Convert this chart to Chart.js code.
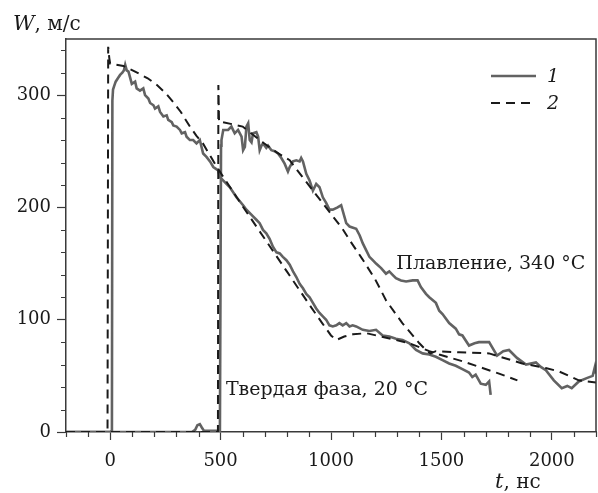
<!DOCTYPE html>
<html>
<head>
<meta charset="utf-8">
<title>W(t)</title>
<script src="https://cdn.jsdelivr.net/npm/chart.js"></script>
<style>
  html, body { margin: 0; padding: 0; background: #fff; }
</style>
</head>
<body>
<canvas id="chart" width="598" height="493"></canvas>
<script>
// curve 1, solid phase 20 C
const solid20T = [-200, 0, 8, 10, 13, 18, 25, 35, 45, 55, 62, 68, 75, 83, 98, 113, 120, 135, 150, 158, 173, 181, 196, 203, 218, 226, 241, 256, 263, 279, 286, 301, 316, 324, 339, 346, 361, 376, 391, 406, 421, 436, 452, 467, 489, 497, 542, 572, 602, 617, 647, 662, 677, 692, 707, 722, 737, 753, 768, 782, 798, 813, 828, 843, 858, 873, 888, 903, 918, 933, 948, 963, 978, 993, 1008, 1024, 1038, 1053, 1069, 1084, 1098, 1114, 1144, 1174, 1204, 1234, 1264, 1294, 1324, 1355, 1385, 1415, 1445, 1475, 1505, 1535, 1565, 1595, 1625, 1640, 1655, 1678, 1701, 1716, 1723];
const solid20W = [0, 0, 1, 295, 305, 308, 312, 315, 318, 320, 322, 327, 322, 321, 310, 312, 306, 304, 306, 300, 297, 293, 291, 288, 290, 285, 281, 282, 278, 276, 273, 272, 269, 266, 267, 263, 260, 260, 257, 260, 248, 245, 241, 236, 233, 227, 218, 209, 202, 198, 192, 189, 186, 180, 177, 172, 165, 160, 159, 156, 153, 149, 143, 138, 132, 128, 123, 120, 115, 110, 106, 103, 100, 95, 94, 95, 97, 95, 97, 94, 95, 94, 91, 90, 91, 86, 85, 83, 82, 79, 73, 70, 69, 67, 64, 61, 59, 56, 53, 49, 51, 43, 42, 45, 33];

// curve 2, solid phase 20 C
const dash20T = [-200, -12, -9, -4, 0, 60, 122, 170, 212, 250, 285, 320, 361, 390, 420, 450, 483, 600, 700, 800, 900, 960, 1000, 1025, 1060, 1100, 1160, 1250, 1355, 1445, 1490, 1595, 1686, 1761, 1844];
const dash20W = [0, 0, 343, 333, 328, 326, 320, 315, 309, 302, 294, 285, 272, 264, 257, 247, 236, 201, 172, 143, 114, 97, 86, 82, 85, 87, 88, 84, 79, 72, 69, 63, 57, 52, 46];

// curve 1, melting 340 C
const solid340T = [-200, 370, 385, 395, 406, 415, 425, 470, 497, 500, 502, 504, 512, 534, 549, 564, 579, 595, 602, 610, 617, 625, 632, 640, 647, 662, 670, 677, 685, 692, 707, 715, 730, 745, 760, 775, 790, 805, 813, 828, 843, 858, 865, 873, 888, 903, 918, 933, 948, 963, 978, 993, 1008, 1030, 1046, 1069, 1084, 1114, 1130, 1144, 1159, 1174, 1189, 1204, 1227, 1249, 1264, 1279, 1294, 1317, 1340, 1370, 1392, 1407, 1430, 1445, 1475, 1490, 1505, 1535, 1565, 1580, 1595, 1625, 1650, 1670, 1716, 1752, 1780, 1806, 1842, 1883, 1928, 1950, 1973, 2009, 2045, 2070, 2090, 2122, 2158, 2185, 2195, 2200];
const solid340W = [0, 0, 2, 6, 7, 4, 1, 1, 1, 150, 255, 260, 269, 269, 272, 266, 269, 263, 251, 254, 272, 275, 260, 258, 266, 267, 263, 251, 255, 257, 253, 255, 251, 250, 248, 244, 239, 232, 236, 241, 242, 241, 244, 241, 230, 224, 215, 221, 218, 209, 204, 198, 198, 200, 202, 186, 183, 181, 175, 168, 162, 156, 153, 150, 146, 141, 143, 140, 137, 135, 134, 135, 135, 129, 123, 120, 115, 108, 105, 97, 92, 87, 86, 77, 79, 80, 80, 68, 72, 73, 66, 60, 62, 58, 55, 46, 39, 41, 39, 45, 48, 50, 58, 52];

// curve 2, melting 340 C
const dash340T = [-200, 488, 490, 493, 510, 600, 677, 754, 813, 871, 934, 993, 1052, 1084, 1142, 1200, 1250, 1323, 1400, 1425, 1450, 1475, 1580, 1716, 1866, 1972, 2032, 2122, 2200];
const dash340W = [0, 0, 309, 276, 276, 272, 260, 249, 242, 227, 211, 196, 181, 171, 154, 136, 117, 97, 79, 74, 70, 72, 71, 70, 61, 57, 54, 46, 44];

const xTickValues = [0, 500, 1000, 1500, 2000];
const yTickValues = [0, 100, 200, 300];
const xMinorStep = 100;
const yMinorStep = 20;

const notes = [
  { text: 'Плавление, 340 °C', t: 1296, w: 150 },
  { text: 'Твердая фаза, 20 °C', t: 524, w: 37 }
];

const pts = (ts, ws) => ts.map((t, i) => ({ x: t, y: ws[i] }));

const SERIF = '"DejaVu Serif", "Liberation Serif", serif';
const GRAY = '#626262';
const INK = '#1a1a1a';
const FRAME = '#3a3a3a';

const extras = {
  id: 'extras',
  afterDraw(chart) {
    const { ctx, chartArea: a, scales: { x, y } } = chart;
    ctx.save();
    // frame top and right
    ctx.strokeStyle = FRAME;
    ctx.lineWidth = 1.5;
    ctx.beginPath();
    ctx.moveTo(a.left, a.top); ctx.lineTo(a.right, a.top); ctx.lineTo(a.right, a.bottom);
    ctx.stroke();
    // minor ticks
    ctx.lineWidth = 1.2;
    ctx.beginPath();
    for (let v = y.min; v <= y.max; v += yMinorStep) {
      if (yTickValues.includes(v)) continue;
      const py = Math.round(y.getPixelForValue(v)) + 0.5;
      ctx.moveTo(a.left - 5, py); ctx.lineTo(a.left, py);
    }
    for (let v = x.min; v <= x.max; v += xMinorStep) {
      if (xTickValues.includes(v)) continue;
      const px = Math.round(x.getPixelForValue(v)) + 0.5;
      ctx.moveTo(px, a.bottom); ctx.lineTo(px, a.bottom + 5);
    }
    ctx.stroke();

    // notes
    ctx.fillStyle = INK;
    ctx.font = '19px ' + SERIF;
    ctx.textBaseline = 'middle';
    ctx.textAlign = 'left';
    notes.forEach(n => ctx.fillText(n.text, x.getPixelForValue(n.t), y.getPixelForValue(n.w)));

    // axis titles
    ctx.textBaseline = 'alphabetic';
    ctx.font = 'italic 21px ' + SERIF;
    ctx.fillText('W', 13, 30);
    let w = ctx.measureText('W').width;
    ctx.font = '20px ' + SERIF;
    ctx.fillText(', м/с', 13 + w, 30);

    ctx.font = 'italic 21px ' + SERIF;
    ctx.fillText('t', 495, 488);
    w = ctx.measureText('t').width;
    ctx.font = '20px ' + SERIF;
    ctx.fillText(', нс', 495 + w, 488);

    // legend
    const items = chart.data.datasets.filter(d => d.legendText);
    items.forEach((d, i) => {
      const ly = 76 + i * 27;
      ctx.strokeStyle = d.borderColor;
      ctx.lineWidth = d.borderWidth;
      ctx.setLineDash(d.borderDash || []);
      ctx.beginPath();
      ctx.moveTo(491, ly); ctx.lineTo(536, ly);
      ctx.stroke();
      ctx.setLineDash([]);
      ctx.fillStyle = INK;
      ctx.font = 'italic 19px ' + SERIF;
      ctx.textBaseline = 'middle';
      ctx.fillText(d.legendText, 547, ly + 1);
    });
    ctx.restore();
  }
};

const solidStyle = { borderColor: GRAY, borderWidth: 2.6, order: 2 };
const dashStyle = { borderColor: INK, borderWidth: 2, borderDash: [9, 6], order: 1 };

new Chart(document.getElementById('chart'), {
  type: 'line',
  data: {
    datasets: [
      { label: '1 (20 °C)', legendText: '1', data: pts(solid20T, solid20W), ...solidStyle },
      { label: '1 (340 °C)', data: pts(solid340T, solid340W), ...solidStyle },
      { label: '2 (20 °C)', legendText: '2', data: pts(dash20T, dash20W), ...dashStyle },
      { label: '2 (340 °C)', data: pts(dash340T, dash340W), ...dashStyle }
    ]
  },
  options: {
    responsive: false,
    animation: false,
    elements: { point: { radius: 0 }, line: { tension: 0, fill: false } },
    layout: { padding: { top: 39, right: 2, left: 0, bottom: 0 } },
    plugins: { legend: { display: false }, tooltip: { enabled: false } },
    scales: {
      x: {
        type: 'linear',
        min: -200,
        max: 2200,
        afterBuildTicks: s => { s.ticks = xTickValues.map(v => ({ value: v })); },
        afterFit: s => { s.height = 61; },
        ticks: { color: INK, font: { family: SERIF, size: 18 }, padding: 11, maxRotation: 0, callback: v => String(v) },
        grid: { drawOnChartArea: false, drawTicks: true, tickLength: 8, tickColor: FRAME, tickWidth: 1.2 },
        border: { display: true, color: FRAME, width: 1.5 }
      },
      y: {
        min: 0,
        max: 350,
        afterBuildTicks: s => { s.ticks = yTickValues.map(v => ({ value: v })); },
        afterFit: s => { s.width = 66; },
        ticks: { color: INK, font: { family: SERIF, size: 18 }, padding: 6, callback: v => String(v) },
        grid: { drawOnChartArea: false, drawTicks: true, tickLength: 9, tickColor: FRAME, tickWidth: 1.2 },
        border: { display: true, color: FRAME, width: 1.5 }
      }
    }
  },
  plugins: [extras]
});
</script>
</body>
</html>
